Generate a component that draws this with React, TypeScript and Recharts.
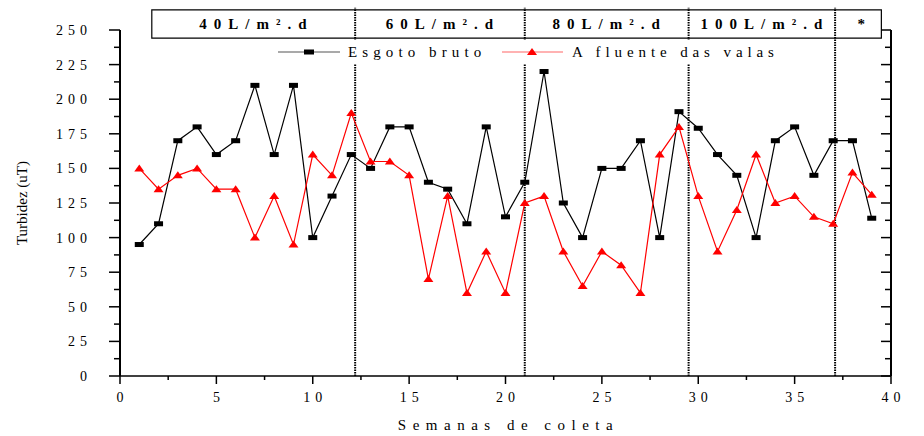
import React from 'react';
import { ComposedChart, Line, XAxis, YAxis, ReferenceLine, ReferenceArea, Legend, Label } from 'recharts';

const weeks = [1, 2, 3, 4, 5, 6, 7, 8, 9, 10, 11, 12, 13, 14, 15, 16, 17, 18, 19, 20, 21, 22, 23, 24, 25, 26, 27, 28, 29, 30, 31, 32, 33, 34, 35, 36, 37, 38, 39];
const esgotoBruto = [95, 110, 170, 180, 160, 170, 210, 160, 210, 100, 130, 160, 150, 180, 180, 140, 135, 110, 180, 115, 140, 220, 125, 100, 150, 150, 170, 100, 191, 179, 160, 145, 100, 170, 180, 145, 170, 170, 114];
const afluenteValas = [150, 135, 145, 150, 135, 135, 100, 130, 95, 160, 145, 190, 155, 155, 145, 70, 130, 60, 90, 60, 125, 130, 90, 65, 90, 80, 60, 160, 180, 130, 90, 120, 160, 125, 130, 115, 110, 147, 131];

const xTicks = [0, 2.5, 5, 7.5, 10, 12.5, 15, 17.5, 20, 22.5, 25, 27.5, 30, 32.5, 35, 37.5, 40];
const yTicks = [0, 12.5, 25, 37.5, 50, 62.5, 75, 87.5, 100, 112.5, 125, 137.5, 150, 162.5, 175, 187.5, 200, 212.5, 225, 237.5, 250];

// taxa de aplicação: limites das fases (semanas) e rótulos
const phaseBounds = [1.65, 12.2, 21, 29.5, 37.1, 39.5];
const phaseLabels = ['40L/m².d', '60L/m².d', '80L/m².d', '100L/m².d', '*'];

const data = weeks.map((w, i) => ({ week: w, bruto: esgotoBruto[i], valas: afluenteValas[i] }));

const serif = { fontFamily: "'Liberation Serif', 'Times New Roman', Times, serif" };

const BlackSquare = (props: any) => {
  const { cx, cy, index } = props;
  if (cx == null || cy == null) return <g key={`b-${index}`} />;
  return <rect key={`b-${index}`} x={cx - 4.5} y={cy - 2.5} width={9} height={5} fill="#000" />;
};

const RedTriangle = (props: any) => {
  const { cx, cy, index } = props;
  if (cx == null || cy == null) return <g key={`v-${index}`} />;
  return <polygon key={`v-${index}`} points={`${cx - 5},${cy + 3} ${cx + 5},${cy + 3} ${cx},${cy - 4}`} fill="#ff0000" />;
};

const XTick = (props: any) => {
  const { x, y, payload } = props;
  const major = payload.value % 5 === 0;
  return (
    <g>
      <line x1={x} x2={x} y1={y} y2={y + (major ? 8 : 4)} stroke="#000" strokeWidth={1.5} />
      {major && (
        <text x={x + 2.5} y={y + 26} textAnchor="middle" fontSize={14} letterSpacing={5} fill="#000" style={serif}>
          {payload.value}
        </text>
      )}
    </g>
  );
};

const YTickLeft = (props: any) => {
  const { x, y, payload } = props;
  const major = payload.value % 25 === 0;
  return (
    <g>
      <line x1={x} x2={x - (major ? 11 : 6)} y1={y} y2={y} stroke="#000" strokeWidth={1.5} />
      {major && (
        <text x={x - 28} y={y + 5} textAnchor="end" fontSize={14} letterSpacing={5} fill="#000" style={serif}>
          {payload.value}
        </text>
      )}
    </g>
  );
};

const YTickRight = (props: any) => {
  const { x, y, payload } = props;
  const major = payload.value % 25 === 0;
  return <line x1={x} x2={x - (major ? 10 : 6)} y1={y} y2={y} stroke="#000" strokeWidth={1.5} />;
};

const PhaseLabel = (props: any) => {
  const { viewBox, value } = props;
  if (!viewBox) return null;
  const cx = viewBox.x + viewBox.width / 2;
  const cy = viewBox.y + viewBox.height / 2;
  return (
    <text x={cx + 3} y={cy + 5} textAnchor="middle" fontSize={15} fontWeight="bold" letterSpacing={value === '*' ? 0 : 7} fill="#000" style={serif}>
      {value}
    </text>
  );
};

const LegendBox = () => (
  <svg width={530} height={24} style={{ display: 'block', background: '#fff' }}>
    <line x1={8} x2={70} y1={12} y2={12} stroke="#555" strokeWidth={1.2} />
    <rect x={34} y={9.5} width={10} height={5} fill="#000" />
    <text x={78} y={17} fontSize={15} letterSpacing={5.1} fill="#000" style={serif}>Esgoto bruto</text>
    <line x1={232} x2={293} y1={12} y2={12} stroke="#ff6666" strokeWidth={1.2} />
    <polygon points="257,15 267,15 262,8" fill="#ff0000" />
    <text x={302} y={17} fontSize={15} letterSpacing={4.9} fill="#000" style={serif}>A fluente das valas</text>
  </svg>
);

const XTitle = (props: any) => {
  const { viewBox } = props;
  const cx = viewBox.x + viewBox.width / 2;
  return (
    <text x={cx + 3} y={viewBox.y + 54} textAnchor="middle" fontSize={15} letterSpacing={6.5} fill="#000" style={serif}>
      Semanas de coleta
    </text>
  );
};

const YTitle = () => (
  <text x={27} y={203} transform="rotate(-90, 27, 203)" textAnchor="middle" fontSize={15} fill="#000" style={serif}>
    Turbidez (uT)
  </text>
);

export default function App() {
  return (
    <div style={{ position: 'absolute', left: 0, top: 0, width: 924, height: 436, background: '#fff' }}>
      <ComposedChart width={924} height={436} data={data} margin={{ top: 30, right: 0, bottom: 0, left: 0 }}>
        <XAxis
          type="number"
          dataKey="week"
          domain={[0, 40]}
          ticks={xTicks}
          interval={0}
          tickSize={0}
          tickMargin={0}
          tickLine={false}
          tick={<XTick />}
          height={60}
          axisLine={{ stroke: '#000', strokeWidth: 1.5 }}
          allowDataOverflow
        >
          <Label content={<XTitle />} />
        </XAxis>
        <YAxis
          domain={[0, 250]}
          ticks={yTicks}
          interval={0}
          tickSize={0}
          tickMargin={0}
          tickLine={false}
          tick={<YTickLeft />}
          width={120}
          axisLine={{ stroke: '#000', strokeWidth: 2 }}
          allowDataOverflow
        >
          <Label content={<YTitle />} />
        </YAxis>
        <YAxis
          yAxisId="r"
          orientation="right"
          domain={[0, 250]}
          ticks={yTicks}
          interval={0}
          tickSize={0}
          tickMargin={0}
          tickLine={false}
          tick={<YTickRight />}
          width={33}
          axisLine={{ stroke: '#000', strokeWidth: 2 }}
          allowDataOverflow
        />
        <ReferenceArea
          x1={phaseBounds[0]}
          x2={phaseBounds[phaseBounds.length - 1]}
          y1={244.2}
          y2={264.5}
          fill="none"
          stroke="#000"
          strokeWidth={1.2}
          ifOverflow="visible"
        />
        {phaseLabels.map((lab, i) => (
          <ReferenceArea
            key={lab}
            x1={phaseBounds[i]}
            x2={phaseBounds[i + 1]}
            y1={244.2}
            y2={264.5}
            fill="none"
            strokeWidth={0}
            ifOverflow="visible"
            label={<PhaseLabel value={lab} />}
          />
        ))}
        {phaseBounds.slice(1, -1).map((b) => (
          <ReferenceLine
            key={b}
            segment={[{ x: b, y: 0 }, { x: b, y: 266 }]}
            stroke="#000"
            strokeWidth={2}
            strokeDasharray="1.5 1"
            ifOverflow="visible"
          />
        ))}
        <Line
          type="linear"
          dataKey="bruto"
          stroke="#000"
          strokeWidth={1.2}
          dot={BlackSquare}
          activeDot={false}
          isAnimationActive={false}
        />
        <Line
          type="linear"
          dataKey="valas"
          stroke="#ff0000"
          strokeWidth={1.2}
          dot={RedTriangle}
          activeDot={false}
          isAnimationActive={false}
        />
        <Legend
          verticalAlign="middle"
          layout="horizontal"
          content={<LegendBox />}
          wrapperStyle={{ top: 40, left: 270, width: 530, height: 24, background: '#fff' }}
        />
      </ComposedChart>
    </div>
  );
}
